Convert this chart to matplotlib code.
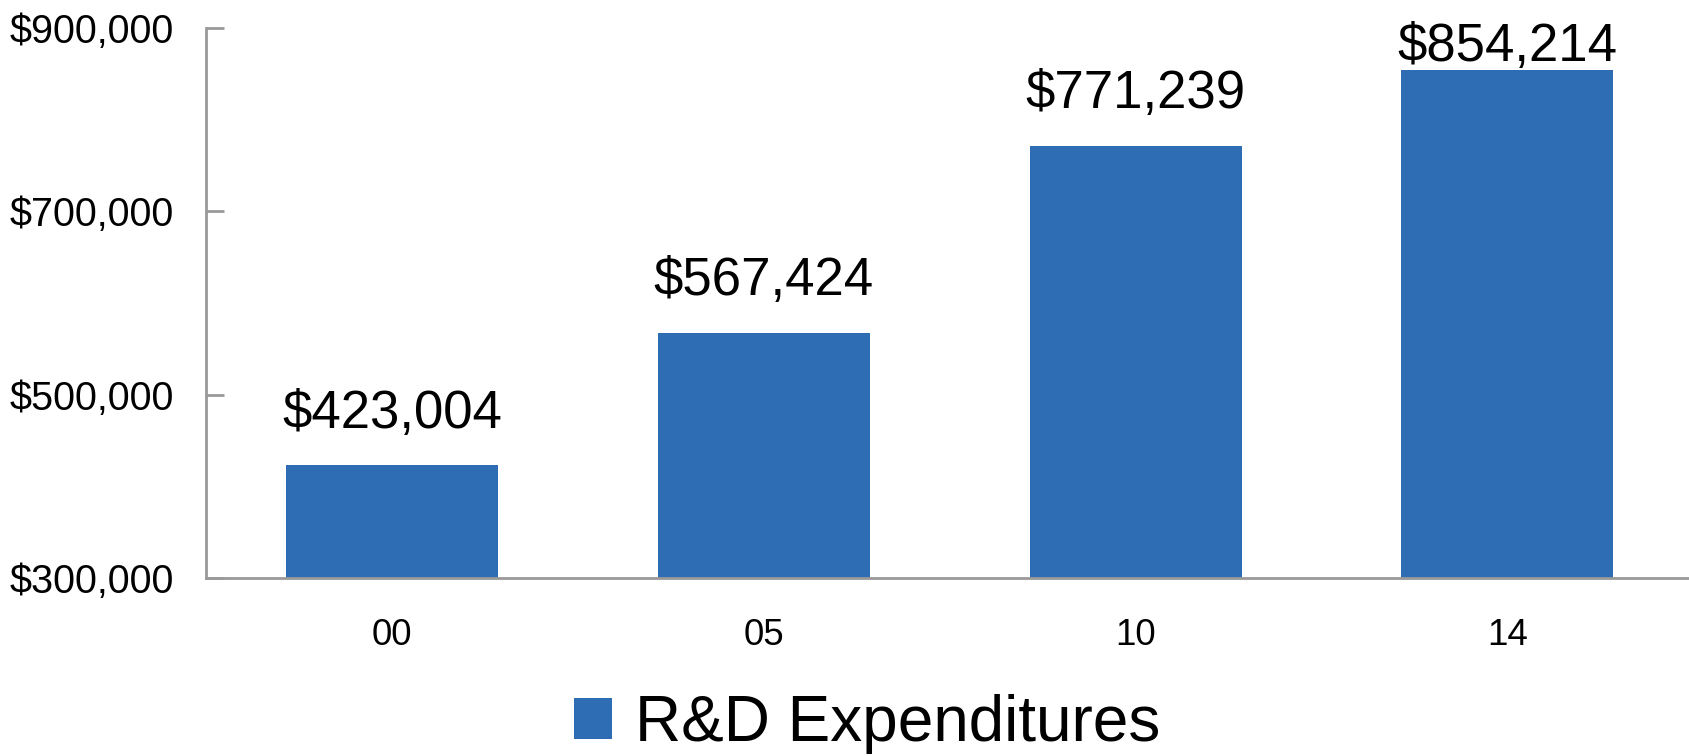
import matplotlib
matplotlib.use("Agg")
import matplotlib.pyplot as plt
from matplotlib.ticker import FuncFormatter

plt.rcParams['font.family'] = ['Liberation Sans', 'DejaVu Sans']

years = ['00', '05', '10', '14']
spend = [423004, 567424, 771239, 854214]
y_ticks = [300000, 500000, 700000, 900000]

bar_colour = '#2E6DB4'
axis_colour = '#999999'

fig = plt.figure(figsize=(16.9, 7.56), dpi=100)
ax = fig.add_axes([0.1219, 0.2354, 0.8801, 0.7281])

x = list(range(len(years)))
ax.bar(x, spend, width=0.57, color=bar_colour, label='R&D Expenditures', zorder=2)

ax.set_xlim(-0.5, 3.5)
ax.set_ylim(y_ticks[0], y_ticks[-1])
ax.set_yticks(y_ticks)
ax.yaxis.set_major_formatter(FuncFormatter(lambda v, p: '${:,.0f}'.format(v)))
ax.set_xticks(x)
ax.set_xticklabels(years)

for side in ['top', 'right']:
    ax.spines[side].set_visible(False)
for side in ['left', 'bottom']:
    ax.spines[side].set_color(axis_colour)
    ax.spines[side].set_linewidth(2)

ax.tick_params(axis='y', direction='in', length=13, width=2, color=axis_colour,
               labelsize=28.5, pad=23)
ax.tick_params(axis='x', length=0, labelsize=26.5, pad=29)

# value labels; the last one is squeezed under the top of the plot
for i, v in enumerate(spend):
    off = 27 if i < len(spend) - 1 else 6
    ax.annotate('${:,.0f}'.format(v), (i, v), xytext=(0, off), textcoords='offset points',
                ha='center', va='baseline', fontsize=38)

fig.legend(loc='center', bbox_to_anchor=(0.513, 0.0423), frameon=False, fontsize=46,
           handlelength=0.6, handleheight=0.6, handletextpad=0.36)

fig.savefig('out.png', dpi=100)
